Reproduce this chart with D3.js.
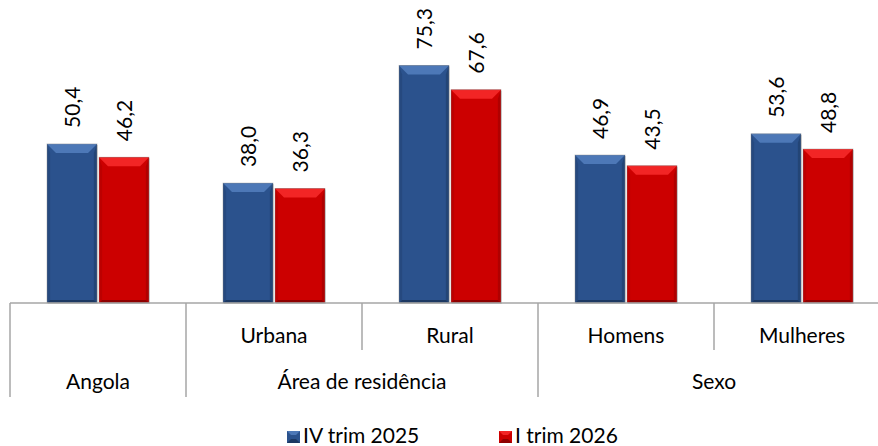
<!DOCTYPE html>
<html>
<head>
<meta charset="utf-8">
<script src="https://cdn.jsdelivr.net/npm/d3@7"></script>
<style>
  body { margin: 0; background: #fff; }
  text { font-family: Lato, "Open Sans", sans-serif; fill: #000; }
</style>
</head>
<body>
<svg id="chart" width="878" height="446"></svg>
<script>
// data
var categories = ['Angola', 'Urbana', 'Rural', 'Homens', 'Mulheres'];
var innerLabels = ['', 'Urbana', 'Rural', 'Homens', 'Mulheres'];
var groups = [
  {name: 'Angola', first: 0, last: 0},
  {name: 'Área de residência', first: 1, last: 2},
  {name: 'Sexo', first: 3, last: 4}
];
var seriesNames = ['IV trim 2025', 'I trim 2026'];
var ivTrim2025 = [50.4, 38.0, 75.3, 46.9, 53.6];
var iTrim2026 = [46.2, 36.3, 67.6, 43.5, 48.8];

var colors = {
  'IV trim 2025': {main: '#2b528d', top: '#4d78b7', side: '#234576', bottom: '#1c3862'},
  'I trim 2026': {main: '#cc0000', top: '#f22525', side: '#b00000', bottom: '#8f0000'}
};

var svg = d3.select('#chart');
var baseY = 303;

var x = d3.scaleBand().domain(categories).range([10, 890]).padding(0);
var x1 = d3.scaleBand().domain(seriesNames).range([-51, 51]).paddingInner(0.0385).paddingOuter(0);
var y = d3.scaleLinear().domain([0, 90]).range([baseY, 19]);

var rows = [];
categories.forEach(function(c, i) {
  rows.push({cat: c, series: seriesNames[0], value: ivTrim2025[i]});
  rows.push({cat: c, series: seriesNames[1], value: iTrim2026[i]});
});

// bevelled bars
var b = 9;
var bars = svg.append('g').attr('class', 'bars')
  .selectAll('g').data(rows).enter().append('g')
  .attr('transform', function(d) {
    return 'translate(' + (x(d.cat) + x.bandwidth() / 2 + x1(d.series)) + ',' + y(d.value) + ')';
  });

bars.each(function(d) {
  var g = d3.select(this);
  var w = x1.bandwidth();
  var h = baseY - y(d.value);
  var c = colors[d.series];
  g.append('rect').attr('x', 1).attr('y', 1).attr('width', w).attr('height', h)
    .attr('fill', '#000').attr('opacity', 0.15);
  g.append('rect').attr('width', w).attr('height', h).attr('fill', c.main);
  g.append('polygon').attr('fill', c.top)
    .attr('points', [[0, 0], [w, 0], [w - b, b], [b, b]].join(' '));
  g.append('polygon').attr('fill', c.side).attr('opacity', 0.6)
    .attr('points', [[0, 0], [b * 0.35, b], [b * 0.35, h - 3], [0, h]].join(' '));
  g.append('polygon').attr('fill', c.side)
    .attr('points', [[w, 0], [w - b * 0.35, b], [w - b * 0.35, h - 3], [w, h]].join(' '));
  g.append('polygon').attr('fill', c.bottom)
    .attr('points', [[0, h], [3, h - 3], [w - 3, h - 3], [w, h]].join(' '));
  g.append('rect').attr('width', w).attr('height', h).attr('fill', 'none')
    .attr('stroke', '#8a8a8a').attr('stroke-opacity', 0.5).attr('stroke-width', 0.8);
});

// value labels, rotated
svg.append('g').attr('class', 'values')
  .selectAll('text').data(rows).enter().append('text')
  .attr('transform', function(d) {
    var cx = x(d.cat) + x.bandwidth() / 2 + x1(d.series) + x1.bandwidth() / 2 + 8;
    return 'translate(' + cx + ',' + (y(d.value) - 16) + ')rotate(-90)';
  })
  .style('font-size', '21px')
  .text(function(d) { return d3.format('.1f')(d.value).replace('.', ','); });

// category axis
var axis = svg.append('g').attr('class', 'axis').attr('stroke', '#a6a6a6').attr('stroke-width', 1.5);
axis.append('line').attr('x1', x.range()[0]).attr('x2', x.range()[1])
  .attr('y1', baseY).attr('y2', baseY);

var groupEdges = [x(categories[0])];
groups.forEach(function(g) { groupEdges.push(x(categories[g.last]) + x.bandwidth()); });
axis.selectAll('line.tall').data(groupEdges).enter().append('line')
  .attr('class', 'tall')
  .attr('x1', function(d) { return d; }).attr('x2', function(d) { return d; })
  .attr('y1', baseY).attr('y2', 397);

var innerEdges = [];
groups.forEach(function(g) {
  for (var i = g.first + 1; i <= g.last; i++) innerEdges.push(x(categories[i]));
});
axis.selectAll('line.short').data(innerEdges).enter().append('line')
  .attr('class', 'short')
  .attr('x1', function(d) { return d; }).attr('x2', function(d) { return d; })
  .attr('y1', baseY).attr('y2', 350);

svg.append('g').selectAll('text').data(categories).enter().append('text')
  .attr('x', function(d) { return x(d) + x.bandwidth() / 2; })
  .attr('y', 343)
  .attr('text-anchor', 'middle')
  .style('font-size', '21px')
  .text(function(d, i) { return innerLabels[i]; });

svg.append('g').selectAll('text').data(groups).enter().append('text')
  .attr('x', function(g) { return (x(categories[g.first]) + x(categories[g.last]) + x.bandwidth()) / 2; })
  .attr('y', 389)
  .attr('text-anchor', 'middle')
  .style('font-size', '21px')
  .text(function(g) { return g.name; });

// legend
var legendX = [287, 499];
var legend = svg.append('g').selectAll('g').data(seriesNames).enter().append('g')
  .attr('transform', function(d, i) { return 'translate(' + legendX[i] + ',431)'; });
legend.append('rect').attr('width', 13).attr('height', 12)
  .attr('fill', function(d) { return colors[d].main; });
legend.append('polygon').attr('points', '0,0 13,0 9,4 4,4')
  .attr('fill', function(d) { return colors[d].top; });
legend.append('polygon').attr('points', '0,12 13,12 9,8 4,8')
  .attr('fill', function(d) { return colors[d].bottom; });
legend.append('text').attr('x', 16).attr('y', 12)
  .style('font-size', '21px')
  .text(function(d) { return d; });
</script>
</body>
</html>
